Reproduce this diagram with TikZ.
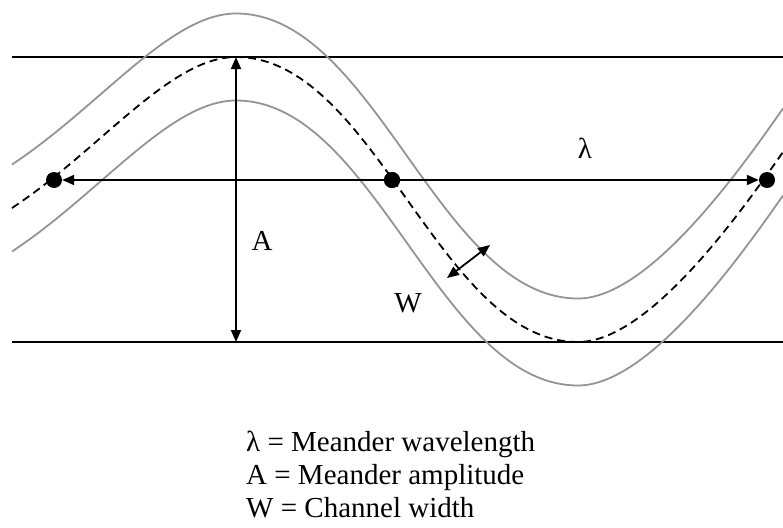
\documentclass[tikz,border=0pt]{standalone}
\usepackage{fontspec}
\setmainfont{Liberation Serif}
\usetikzlibrary{arrows.meta}
\begin{document}
\begin{tikzpicture}[x=1pt,y=-1pt,
  bank/.style={draw=black!42,line width=1.8pt},
  centreline/.style={draw=black,line width=1.8pt,dash pattern=on 8pt off 5pt},
  guide/.style={draw=black,line width=1.8pt},
  measure/.style={draw=black,line width=1.8pt,{Triangle[length=12pt,width=10pt]}-{Triangle[length=12pt,width=10pt]}},
  dot/.style={circle,fill=black,inner sep=0pt,minimum size=16pt},
  lbl/.style={font=\fontsize{29}{34}\selectfont,inner sep=0pt,anchor=base}]
\useasboundingbox (0,0) rectangle (783,527);
% guide lines
\coordinate (tl) at (12,57); \coordinate (tr) at (783,57);
\coordinate (bl) at (12,342); \coordinate (br) at (783,342);
\draw[guide] (tl) -- (tr);
\draw[guide] (bl) -- (br);
% banks and centreline
\foreach \s/\st in {-43.5/bank,43.5/bank,0/centreline}{
  \path[\st,yshift=-\s pt] (12,208) .. controls (100,150) and (170,57) .. (236,57)
     .. controls (375,57) and (439,342) .. (578,342)
     .. controls (650,342) and (743,209) .. (783,152);
}
% dots and wavelength arrow
\node[dot] (dl) at (54,180) {};
\node[dot] (dm) at (392,180) {};
\node[dot] (dr) at (767,180) {};
\draw[measure] (dl) -- (dr);
\node[dot] at (392,180) {};
% amplitude arrow
\coordinate (atop) at (236,57);
\coordinate (abot) at (236,342);
\draw[measure] (abot) -- (atop);
% width arrow
\coordinate (w1) at (447,278);
\coordinate (w2) at (490,245);
\draw[measure] (w1) -- (w2);
% labels
\node[lbl] (lam) at (585,158) {λ};
\node[lbl] (la) at (262,250) {A};
\node[lbl] (lw) at (408,312) {W};
% legend
\node[lbl,anchor=base west] (g1) at (246,451) {λ = Meander wavelength};
\node[lbl,anchor=base west] (g2) at (246,484) {A = Meander amplitude};
\node[lbl,anchor=base west] (g3) at (246,517) {W = Channel width};
\end{tikzpicture}
\end{document}
